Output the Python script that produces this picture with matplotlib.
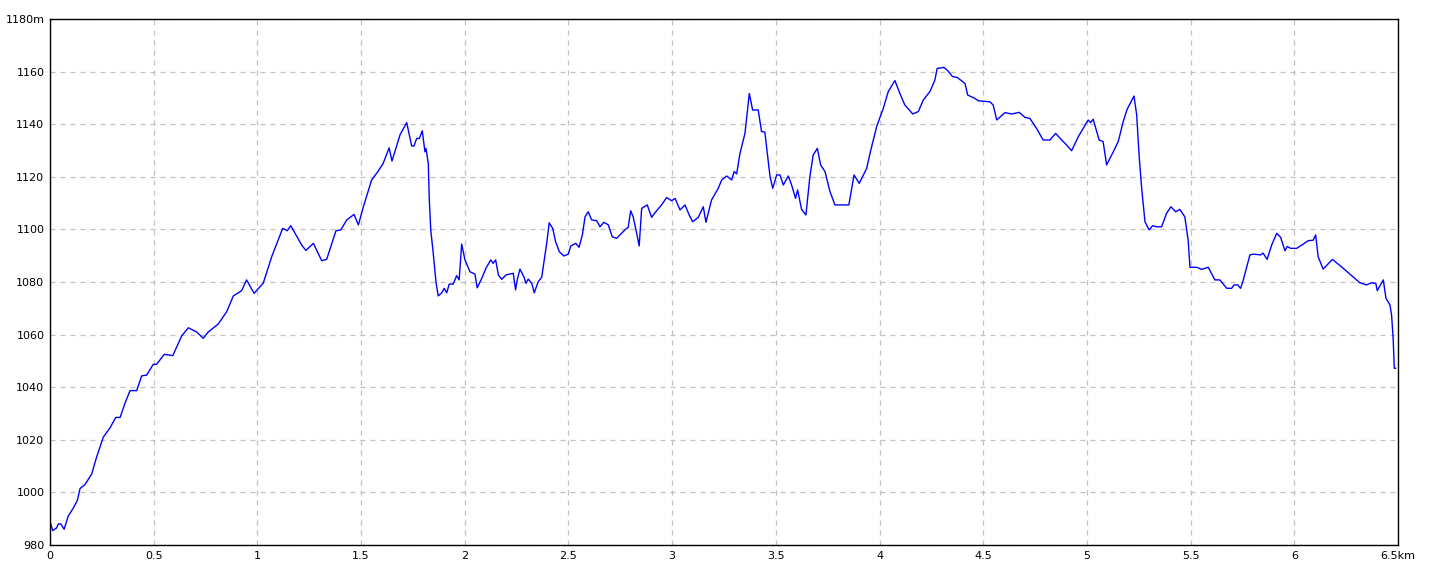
import matplotlib
matplotlib.use("Agg")
import matplotlib.pyplot as plt

# elevation profile, distance in km / elevation in m
dist_km = [
    0.000, 0.013, 0.032, 0.040, 0.052, 0.068, 0.088, 0.112, 0.132, 0.145,
    0.169, 0.201, 0.225, 0.257, 0.289, 0.317, 0.338, 0.362, 0.386, 0.418,
    0.442, 0.466, 0.498, 0.514, 0.551, 0.592, 0.635, 0.667, 0.707, 0.739,
    0.763, 0.811, 0.852, 0.884, 0.924, 0.948, 0.984, 1.028, 1.069, 1.122,
    1.144, 1.161, 1.214, 1.234, 1.270, 1.310, 1.334, 1.379, 1.402, 1.431,
    1.466, 1.487, 1.511, 1.551, 1.581, 1.606, 1.635, 1.649, 1.688, 1.720,
    1.744, 1.755, 1.768, 1.781, 1.795, 1.808, 1.813, 1.824, 1.829, 1.836,
    1.848, 1.861, 1.872, 1.889, 1.901, 1.913, 1.925, 1.944, 1.961, 1.973,
    1.985, 2.001, 2.025, 2.049, 2.060, 2.082, 2.102, 2.125, 2.137, 2.149,
    2.162, 2.178, 2.199, 2.234, 2.245, 2.253, 2.266, 2.285, 2.295, 2.306,
    2.323, 2.335, 2.354, 2.371, 2.395, 2.407, 2.424, 2.438, 2.456, 2.478,
    2.499, 2.511, 2.535, 2.551, 2.567, 2.580, 2.595, 2.612, 2.636, 2.652,
    2.671, 2.692, 2.711, 2.732, 2.748, 2.772, 2.788, 2.800, 2.812, 2.829,
    2.841, 2.853, 2.880, 2.901, 2.925, 2.949, 2.973, 2.998, 3.014, 3.038,
    3.062, 3.082, 3.099, 3.126, 3.150, 3.163, 3.190, 3.222, 3.239, 3.263,
    3.287, 3.299, 3.311, 3.327, 3.351, 3.372, 3.388, 3.415, 3.431, 3.447,
    3.472, 3.485, 3.504, 3.520, 3.536, 3.560, 3.576, 3.595, 3.605, 3.624,
    3.645, 3.664, 3.680, 3.700, 3.716, 3.737, 3.761, 3.785, 3.852, 3.877,
    3.902, 3.938, 3.954, 3.986, 4.018, 4.042, 4.074, 4.098, 4.122, 4.160,
    4.187, 4.211, 4.243, 4.267, 4.278, 4.310, 4.326, 4.352, 4.374, 4.412,
    4.425, 4.460, 4.476, 4.532, 4.548, 4.565, 4.605, 4.637, 4.674, 4.701,
    4.725, 4.757, 4.789, 4.822, 4.849, 4.878, 4.902, 4.926, 4.958, 5.006,
    5.018, 5.030, 5.059, 5.078, 5.095, 5.127, 5.151, 5.175, 5.194, 5.227,
    5.240, 5.252, 5.264, 5.280, 5.300, 5.317, 5.336, 5.360, 5.384, 5.405,
    5.428, 5.448, 5.472, 5.488, 5.497, 5.529, 5.553, 5.585, 5.617, 5.641,
    5.674, 5.698, 5.709, 5.727, 5.741, 5.754, 5.786, 5.802, 5.838, 5.849,
    5.869, 5.891, 5.915, 5.934, 5.955, 5.966, 5.982, 6.011, 6.043, 6.067,
    6.091, 6.103, 6.115, 6.139, 6.184, 6.204, 6.236, 6.268, 6.316, 6.348,
    6.372, 6.393, 6.400, 6.429, 6.442, 6.461, 6.469, 6.477, 6.482, 6.488,
]
elev_m = [
    988.9, 985.5, 986.5, 988.0, 988.0, 986.0, 991.0, 994.0, 997.0, 1001.5,
    1003.0, 1007.0, 1013.5, 1021.0, 1024.5, 1028.5, 1028.5, 1034.0, 1038.7, 1038.7,
    1044.3, 1044.6, 1048.7, 1048.7, 1052.5, 1052.0, 1059.5, 1062.6, 1061.0, 1058.6,
    1061.0, 1064.0, 1068.7, 1074.7, 1076.7, 1080.8, 1075.7, 1079.5, 1089.6, 1100.4,
    1099.5, 1101.4, 1094.0, 1092.0, 1094.7, 1088.1, 1088.6, 1099.5, 1099.8, 1103.6,
    1105.7, 1101.7, 1108.6, 1118.8, 1122.0, 1125.0, 1131.0, 1126.0, 1136.0, 1140.6,
    1131.7, 1131.7, 1134.6, 1134.6, 1137.5, 1129.5, 1130.8, 1125.1, 1111.2, 1099.8,
    1090.9, 1080.1, 1074.7, 1075.9, 1077.6, 1075.9, 1079.2, 1079.2, 1082.4, 1080.8,
    1094.4, 1088.4, 1083.9, 1083.0, 1077.8, 1081.4, 1085.2, 1088.4, 1087.1, 1088.4,
    1082.7, 1081.0, 1082.7, 1083.3, 1077.0, 1080.8, 1084.9, 1082.0, 1079.5, 1081.1,
    1079.5, 1075.9, 1080.1, 1081.8, 1094.7, 1102.5, 1100.4, 1095.3, 1091.5, 1089.9,
    1090.6, 1093.7, 1094.7, 1093.2, 1097.9, 1104.8, 1106.7, 1103.6, 1103.3, 1101.0,
    1102.7, 1101.7, 1097.2, 1096.6, 1097.9, 1099.8, 1100.8, 1107.1, 1104.8, 1098.5,
    1093.7, 1108.0, 1109.3, 1104.6, 1107.1, 1109.3, 1112.1, 1110.9, 1111.8, 1107.4,
    1109.3, 1105.5, 1102.9, 1104.6, 1108.6, 1102.7, 1111.2, 1115.6, 1118.8, 1120.3,
    1118.8, 1122.0, 1121.1, 1128.9, 1136.5, 1151.7, 1145.4, 1145.4, 1137.2, 1137.0,
    1120.0, 1115.6, 1120.7, 1120.7, 1116.9, 1120.3, 1116.9, 1111.8, 1115.0, 1107.6,
    1105.5, 1120.0, 1128.3, 1130.8, 1124.5, 1122.0, 1114.4, 1109.3, 1109.3, 1120.7,
    1117.5, 1123.2, 1128.9, 1139.1, 1146.0, 1152.4, 1156.6, 1151.7, 1147.3, 1143.9,
    1144.8, 1149.2, 1152.4, 1156.8, 1161.2, 1161.6, 1160.6, 1158.1, 1157.8, 1155.5,
    1151.1, 1149.8, 1148.9, 1148.5, 1147.3, 1141.6, 1144.4, 1143.9, 1144.5, 1142.6,
    1142.2, 1138.4, 1134.0, 1134.0, 1136.5, 1134.0, 1132.1, 1129.9, 1135.2, 1141.6,
    1140.6, 1141.9, 1134.0, 1133.4, 1124.5, 1129.5, 1133.4, 1141.0, 1145.7, 1150.7,
    1143.5, 1127.6, 1115.6, 1102.9, 1099.8, 1101.4, 1101.0, 1101.0, 1106.1, 1108.6,
    1106.7, 1107.6, 1104.8, 1096.0, 1085.6, 1085.6, 1084.8, 1085.6, 1080.8, 1080.8,
    1077.6, 1077.6, 1078.9, 1078.9, 1077.6, 1080.8, 1090.3, 1090.6, 1090.3, 1091.0,
    1088.6, 1094.1, 1098.5, 1097.0, 1091.9, 1093.5, 1092.8, 1092.8, 1094.4, 1095.7,
    1095.9, 1097.9, 1089.6, 1084.9, 1088.6, 1087.3, 1085.2, 1083.0, 1079.7, 1078.9,
    1079.7, 1079.5, 1076.7, 1080.8, 1073.8, 1071.3, 1067.5, 1058.0, 1047.2, 1047.2,
]

x_ticks = [0, 0.5, 1, 1.5, 2, 2.5, 3, 3.5, 4, 4.5, 5, 5.5, 6, 6.5]
x_labels = ["0", "0.5", "1", "1.5", "2", "2.5", "3", "3.5", "4", "4.5",
            "5", "5.5", "6", "6.5km"]
y_ticks = [980, 1000, 1020, 1040, 1060, 1080, 1100, 1120, 1140, 1160, 1180]
y_labels = ["980", "1000", "1020", "1040", "1060", "1080", "1100", "1120",
            "1140", "1160", "1180m"]

fig = plt.figure(figsize=(14.4, 5.76), dpi=100)
ax = fig.add_axes([50 / 1440, 1 - 545 / 576, 1348 / 1440, 526 / 576])

ax.plot(dist_km, elev_m, color="#0000ff", linewidth=1.0)

ax.set_xlim(0, 6.5)
ax.set_ylim(980, 1180)
ax.set_xticks(x_ticks)
ax.set_xticklabels(x_labels)
ax.set_yticks(y_ticks)
ax.set_yticklabels(y_labels)
ax.tick_params(length=0, labelsize=8, pad=4, colors="black")

ax.grid(True, color="#c0c0c0", linestyle=(0, (4, 4)), linewidth=0.9)
ax.set_axisbelow(True)
for s in ax.spines.values():
    s.set_color("black")
    s.set_linewidth(1.0)

fig.savefig("out.png", dpi=100, facecolor="white")
